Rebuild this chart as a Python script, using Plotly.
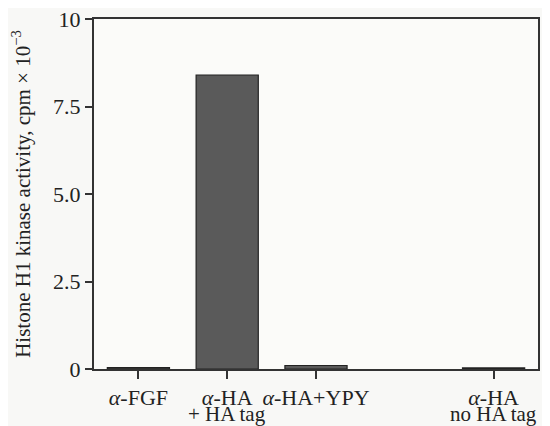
import plotly.graph_objects as go

positions = [0, 1, 2, 4]
line1 = ["<i>α</i>-FGF", "<i>α</i>-HA", "<i>α</i>-HA+YPY", "<i>α</i>-HA"]
line2 = ["", "+ HA tag", "", "no HA tag"]
values = [0.04, 8.4, 0.1, 0.03]
y_ticks = [0, 2.5, 5.0, 7.5, 10]
y_tick_text = ["0", "2.5", "5.0", "7.5", "10"]

font = "Liberation Serif, Times New Roman, serif"

fig = go.Figure()
fig.add_trace(go.Bar(
    x=positions, y=values, width=0.7,
    marker=dict(color="#5a5a5a", line=dict(color="#222222", width=1.2)),
))

for p, t in zip(positions, line2):
    if t:
        fig.add_annotation(x=p, y=0, xref="x", yref="y", text=t, showarrow=False,
                           yanchor="top", yshift=-31, font=dict(family=font, size=21, color="#222"))

fig.update_layout(
    width=542, height=418,
    margin=dict(l=86, r=12, t=11, b=57),
    paper_bgcolor="#f8f8f6", plot_bgcolor="#fbfbf9",
    showlegend=False,
    font=dict(family=font, size=22, color="#222"),
    xaxis=dict(range=[-0.5, 4.5], tickvals=positions, ticktext=line1,
               showline=True, linecolor="#333", linewidth=2, mirror=True,
               ticks="outside", ticklen=8, tickwidth=2, tickcolor="#333",
               showgrid=False, zeroline=False, tickfont=dict(size=22),
               automargin=False, ticklabeloverflow="allow"),
    yaxis=dict(range=[0, 10], tickvals=y_ticks, ticktext=y_tick_text,
               showline=True, linecolor="#333", linewidth=2, mirror=True,
               ticks="outside", ticklen=7, tickwidth=2, tickcolor="#333",
               showgrid=False, zeroline=False, tickfont=dict(size=22),
               automargin=False, ticklabeloverflow="allow",
               title=dict(text="Histone H1 kinase activity, cpm × 10<sup>−3</sup>",
                          font=dict(size=21), standoff=18)),
)

fig.write_html("out.html")
